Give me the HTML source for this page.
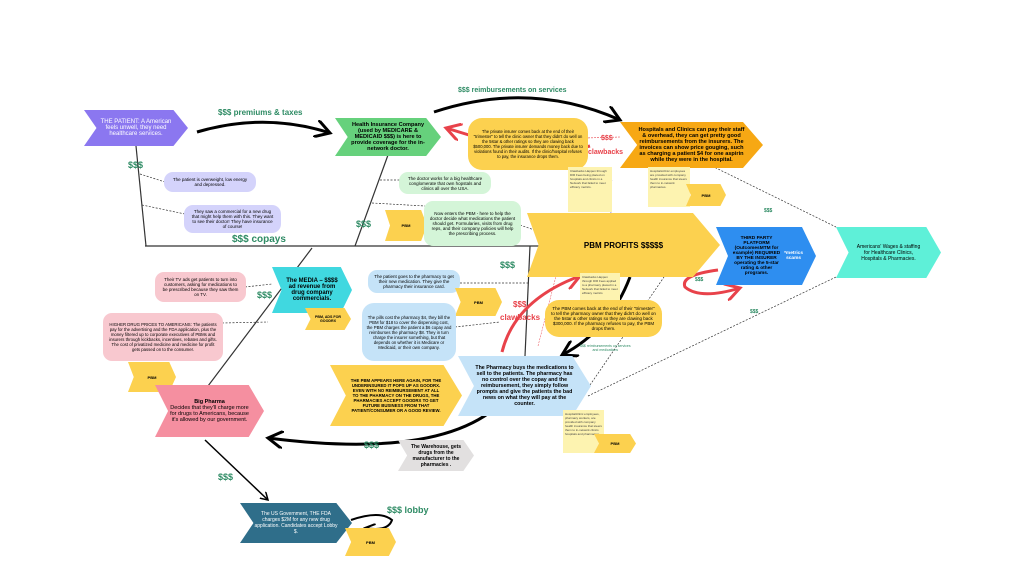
<!DOCTYPE html>
<html><head><meta charset="utf-8"><style>
body{margin:0;width:1024px;height:576px;background:#fff;position:relative;overflow:hidden;font-family:"Liberation Sans",sans-serif}
.a{position:absolute;display:flex;align-items:center;justify-content:center;text-align:center;box-sizing:border-box}
.ch{clip-path:polygon(0 0,86% 0,100% 50%,86% 100%,0 100%,12% 50%)}
.bb{border-radius:9px}
.g{position:absolute;color:#2e8b64;font-weight:bold;white-space:nowrap}
.r{position:absolute;color:#e8424a;font-weight:bold;white-space:nowrap}
.n{position:absolute;background:#fdf3b0;font-size:3px;padding:2px;box-sizing:border-box;color:#444}
</style></head><body>
<svg width="1024" height="576" style="position:absolute;left:0;top:0">
<defs><marker id="m" markerWidth="6" markerHeight="6" refX="5" refY="3" orient="auto"><path d="M0,0 L5,3 L0,6" fill="none" stroke="#000" stroke-width="1"/></marker>
<marker id="mr" markerWidth="6" markerHeight="6" refX="5" refY="3" orient="auto"><path d="M0,0 L5,3 L0,6" fill="none" stroke="#e8424a" stroke-width="1"/></marker></defs>
<g stroke="#333" stroke-width="1.2" fill="none">
<line x1="145" y1="246" x2="556" y2="246"/>
<line x1="136" y1="146" x2="146" y2="246"/>
<line x1="388" y1="155" x2="355" y2="246"/>
<line x1="312" y1="248" x2="208" y2="386"/>
<line x1="530" y1="246" x2="525" y2="356"/>
</g>
<g stroke="#333" stroke-width="0.7" stroke-dasharray="2,1.5" fill="none">
<line x1="140" y1="174" x2="165" y2="182"/><line x1="142" y1="205" x2="185" y2="214"/>
<line x1="380" y1="180" x2="400" y2="180"/><line x1="372" y1="203" x2="425" y2="206"/>
<line x1="520" y1="225" x2="540" y2="232"/>
<line x1="245" y1="287" x2="272" y2="284"/><line x1="222" y1="323" x2="268" y2="322"/>
<line x1="460" y1="283" x2="530" y2="283"/><line x1="455" y1="327" x2="500" y2="322"/>
<line x1="712" y1="166" x2="836" y2="227"/><line x1="588" y1="396" x2="836" y2="277"/>
<line x1="588" y1="388" x2="664" y2="277"/>
</g>
<line x1="538" y1="346" x2="556" y2="276" stroke="#e8424a" stroke-width="0.5" stroke-dasharray="2,1"/>
<line x1="585" y1="138" x2="620" y2="137" stroke="#e8424a" stroke-width="0.6" stroke-dasharray="2,1"/>
<path d="M612,180 Q600,205 620,225" stroke="#9b8fd6" stroke-width="0.8" fill="none"/>
<g stroke="#000" stroke-width="3" fill="none">
<path d="M197,132 Q265,112 330,133" marker-end="url(#m)"/>
<path d="M434,112 Q530,80 620,120" marker-end="url(#m)"/>
<path d="M500,404 Q440,460 268,438" marker-end="url(#m)"/>
<path d="M630,277 Q610,330 562,355" marker-end="url(#m)"/>
<path d="M205,440 L268,500" stroke-width="1.5" marker-end="url(#m)"/>
<path d="M351,520 Q380,510 392,520 Q388,532 365,528" stroke-width="2" marker-end="url(#m)"/>
</g>
<g stroke="#e8424a" stroke-width="3" fill="none">
<path d="M495,143 L446,128" marker-end="url(#mr)"/>
<line x1="578" y1="149" x2="590" y2="146"/>
<path d="M502,352 Q515,300 580,276" marker-end="url(#mr)"/>
<path d="M718,270 Q680,275 685,287 Q700,300 740,288" marker-end="url(#mr)"/>
</g>
</svg>

<div class="a ch" style="left:84px;top:110px;width:104px;height:36px;background:#8b77f0;color:#fff;font-size:6px;padding:0 14px">THE PATIENT: A American feels unwell, they need healthcare services.</div>
<div class="g" style="left:218px;top:108px;font-size:8px">$$$ premiums &amp; taxes</div>
<div class="a ch" style="left:335px;top:118px;width:106px;height:38px;background:#66d17c;font-size:5.6px;font-weight:bold;padding:0 13px">Health Insurance Company (used by MEDICARE &amp; MEDICAID $$$) is here to provide coverage for the in-network doctor.</div>
<div class="g" style="left:458px;top:87px;font-size:7px">$$$ reimbursements on services</div>
<div class="a bb" style="left:468px;top:118px;width:120px;height:52px;background:#fcd14f;font-size:4.2px;padding:2px 5px;border-radius:14px">The private insurer comes back at the end of their "trimester" to tell the clinic owner that they didn't do well on the 5star &amp; other ratings so they are clawing back $500,000. The private insurer demands money back due to violations found in their audits. If the clinic/hospital refuses to pay, the insurance drops them.</div>
<div class="a ch" style="left:620px;top:122px;width:143px;height:46px;background:#f7a814;font-size:5.6px;font-weight:bold;padding:0 17px">Hospitals and Clinics can pay their staff &amp; overhead, they can get pretty good reimbursements from the insurers. The invoices can show price gouging, such as charging a patient $4 for one aspirin while they were in the hospital.</div>
<div class="r" style="left:601px;top:135px;font-size:7px">$$$</div>
<div class="r" style="left:588px;top:149px;font-size:7px">clawbacks</div>
<div class="n" style="left:568px;top:167px;width:44px;height:45px">Clawbacks Happen through DIR Fees being placed on hospitals and clinics in a Network that failed to meet efficacy metrics.</div>
<div class="n" style="left:648px;top:167px;width:42px;height:40px">Hospitals/clinic employees are provided with company health insurance that steers them to in-network pharmacies.</div>
<div class="a ch" style="left:686px;top:184px;width:40px;height:22px;background:#fcd14f;font-size:4px;font-weight:bold">PBM</div>
<div class="g" style="left:128px;top:160px;font-size:9px">$$$</div>
<div class="a bb" style="left:164px;top:172px;width:92px;height:20px;background:#d4d3fb;font-size:4.5px;padding:0 8px">The patient is overweight, low energy and depressed.</div>
<div class="a bb" style="left:184px;top:205px;width:97px;height:28px;background:#d4d3fb;font-size:4.5px;padding:0 6px">They saw a commercial for a new drug that might help them with this. They want to see their doctor! They have insurance of course!</div>
<div class="a bb" style="left:399px;top:172px;width:92px;height:22px;background:#d4f5d8;font-size:4.5px;padding:0 6px">The doctor works for a big healthcare conglomerate that own hopstals and clinics all over the USA.</div>
<div class="a ch" style="left:385px;top:210px;width:42px;height:31px;background:#fcd14f;font-size:4px;font-weight:bold">PBM</div>
<div class="a bb" style="left:424px;top:201px;width:97px;height:45px;background:#d4f5d8;font-size:4.5px;padding:0 5px">Now enters the PBM - here to help the doctor decide what medications the patient should get. Formularies, visits from drug reps, and their company policies will help the prescribing process.</div>
<div class="g" style="left:356px;top:219px;font-size:9px">$$$</div>
<div class="g" style="left:232px;top:234px;font-size:10px">$$$ copays</div>
<div class="a ch" style="left:527px;top:213px;width:193px;height:64px;background:#fcd14f;font-size:8px;font-weight:bold;clip-path:polygon(0 0,86% 0,100% 50%,86% 100%,0 100%,6% 50%)">PBM PROFITS $$$$$</div>
<div class="g" style="left:764px;top:208px;font-size:5px">$$$</div>
<div class="a ch" style="left:716px;top:227px;width:100px;height:58px;background:#2e8ef0;font-size:4.8px;font-weight:bold;padding:0 13px">THIRD PARTY PLATFORM (OutcomesMTM for example) REQUIRED BY THE INSURER operating the 5-star rating &amp; other programs. <span style="color:#fff">*metrics scams</span></div>
<div class="a ch" style="left:836px;top:227px;width:105px;height:51px;background:#5ef0d8;font-size:5px;padding:0 18px">Americans' Wages &amp; staffing for Healthcare Clinics, Hospitals &amp; Pharmacies.</div>
<div class="g" style="left:695px;top:277px;font-size:5px">$$$</div>
<div class="g" style="left:750px;top:309px;font-size:5px">$$$</div>
<div class="a bb" style="left:155px;top:272px;width:91px;height:30px;background:#f8c8cf;font-size:4.5px;padding:0 6px">Their TV ads get patients to turn into customers, asking for medications to be prescribed because they saw them on TV.</div>
<div class="a ch" style="left:272px;top:267px;width:80px;height:46px;background:#40d8e0;font-size:6px;font-weight:bold;padding:0 14px">The MEDIA – $$$$ ad revenue from drug company commercials.</div>
<div class="a ch" style="left:305px;top:308px;width:46px;height:22px;background:#fcd14f;font-size:3.6px;font-weight:bold;padding:0 6px">PBM, ADS FOR GOODRX</div>
<div class="g" style="left:257px;top:290px;font-size:9px">$$$</div>
<div class="a bb" style="left:103px;top:313px;width:120px;height:48px;background:#f8c8cf;font-size:4.3px;padding:0 5px">HIGHER DRUG PRICES TO AMERICANS: The patients pay for the advertising and the FDA application, plus the money filtered up to corporate executives of PBMs and insurers through kickbacks, incentives, rebates and gifts. The cost of privatized medicine and medicine for profit gets passed on to the consumer.</div>
<div class="a ch" style="left:128px;top:362px;width:48px;height:30px;background:#fcd14f;font-size:4px;font-weight:bold">PBM</div>
<div class="a ch" style="left:155px;top:385px;width:109px;height:52px;background:#f58fa0;font-size:5.5px;padding:0 14px"><span><b>Big Pharma</b><br>Decides that they'll charge more for drugs to Americans, because it's allowed by our government.</span></div>
<div class="a bb" style="left:368px;top:270px;width:92px;height:23px;background:#c5e3f8;font-size:4.5px;padding:0 5px">The patient goes to the pharmacy to get their new medication. They give the pharmacy their insurance card.</div>
<div class="a ch" style="left:455px;top:288px;width:47px;height:28px;background:#fcd14f;font-size:4px;font-weight:bold">PBM</div>
<div class="a bb" style="left:362px;top:303px;width:94px;height:58px;background:#c5e3f8;font-size:4.3px;padding:0 4px;border-radius:12px">The pills cost the pharmacy $4, they bill the PBM for $18 to cover the dispensing cost, the PBM charges the patient a $6 copay and reimburses the pharmacy $8. They in turn charge the insurer something, but that depends on whether it is Medicare or Medicaid, or their own company.</div>
<div class="g" style="left:500px;top:260px;font-size:9px">$$$</div>
<div class="r" style="left:513px;top:300px;font-size:8px">$$$</div>
<div class="r" style="left:500px;top:313px;font-size:8px">clawbacks</div>
<div class="n" style="left:580px;top:273px;width:40px;height:28px">Clawbacks Happen through DIR Fees applied to a pharmacy placed in a Network that failed to meet efficacy metrics</div>
<div class="a bb" style="left:545px;top:300px;width:117px;height:37px;background:#fcd14f;font-size:4.5px;padding:0 5px;border-radius:14px">The PBM comes back at the end of their "trimester" to tell the pharmacy owner that they didn't do well on the 5star &amp; other ratings so they are clawing back $300,000. If the pharmacy refuses to pay, the PBM drops them.</div>
<div class="g" style="left:580px;top:344px;font-size:3.5px;text-align:center;font-weight:normal">$$$ reimbursements on services<br>and medications</div>
<div class="a ch" style="left:330px;top:365px;width:132px;height:61px;background:#fcd14f;font-size:4.3px;font-weight:bold;padding:0 20px">THE PBM APPEARS HERE AGAIN, FOR THE UNDERINSURED IT POPS UP AS GOODRX. EVEN WITH NO REIMBURSEMENT AT ALL TO THE PHARMACY ON THE DRUGS, THE PHARMACIES ACCEPT GOODRX TO GET FUTURE BUSINESS FROM THAT PATIENT/CONSUMER OR A GOOD REVIEW.</div>
<div class="a ch" style="left:458px;top:356px;width:133px;height:60px;background:#c5e3f8;font-size:5.3px;font-weight:bold;padding:0 16px">The Pharmacy buys the medications to sell to the patients. The pharmacy has no control over the copay and the reimbursement, they simply follow prompts and give the patients the bad news on what they will pay at the counter.</div>
<div class="n" style="left:563px;top:410px;width:41px;height:43px">Hospital/clinic employees, pharmacy workers, are provided with company health insurance that steers them to in-network clinics hospitals and pharmacies.</div>
<div class="a ch" style="left:594px;top:434px;width:42px;height:19px;background:#fcd14f;font-size:4px;font-weight:bold">PBM</div>
<div class="g" style="left:364px;top:440px;font-size:9px">$$$</div>
<div class="a ch" style="left:398px;top:440px;width:76px;height:31px;background:#e2e0e0;font-size:5px;font-weight:bold;padding:0 10px">The Warehouse, gets drugs from the manufacturer to the pharmacies .</div>
<div class="g" style="left:218px;top:472px;font-size:9px">$$$</div>
<div class="a ch" style="left:240px;top:503px;width:112px;height:40px;background:#2f6e8a;color:#fff;font-size:5px;padding:0 14px">The US Government, THE FDA charges $2M for any new drug application. Candidates accept Lobby $.</div>
<div class="g" style="left:387px;top:505px;font-size:9px">$$$ lobby</div>
<div class="a ch" style="left:345px;top:528px;width:51px;height:28px;background:#fcd14f;font-size:4px;font-weight:bold">PBM</div>
</body></html>
